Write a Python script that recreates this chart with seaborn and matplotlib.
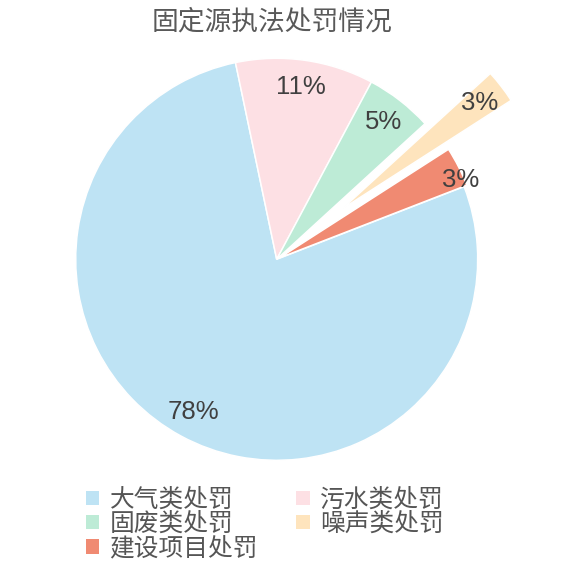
#!/usr/bin/env python3

import numpy as np
import matplotlib
matplotlib.use("Agg")
import matplotlib.pyplot as plt
from matplotlib.patches import Patch
import seaborn as sns

# data
categories = ['大气类处罚', '污水类处罚', '固废类处罚', '噪声类处罚', '建设项目处罚']
values = [776, 111, 54, 27, 32]
colors = ['#bee3f4', '#fde0e4', '#bdebd6', '#fee4bd', '#f08a72']
explode = [0, 0, 0, 0.41, 0.015]
title = '固定源执法处罚情况'

sns.set_theme(style='white')
plt.rcParams['font.family'] = ['Noto Sans CJK SC', 'DejaVu Sans']

fig = plt.figure(figsize=(5.72, 5.72), dpi=100)
ax = fig.add_axes([0, 0, 1, 1])

pal = sns.color_palette(colors)
wedges, texts, autotexts = ax.pie(
    values, colors=pal, explode=explode, startangle=21.2, counterclock=False,
    autopct='%1.0f%%', pctdistance=0.865, radius=1,
    wedgeprops=dict(edgecolor='white', linewidth=1.1),
    textprops=dict(fontsize=18.5, color='#404040', family='Liberation Sans'),
)

# red label sits near the rim, a bit below the middle of its wedge
w = wedges[4]
ang = np.deg2rad((w.theta1 + w.theta2) / 2 - 3.8)
cx, cy = w.center
autotexts[4].set_position((cx + 0.98 * np.cos(ang), cy + 0.98 * np.sin(ang)))

# same pixel scale on both axes: 201 px per unit, center at (276.7, 259.3)
s = 201.0
ax.set_xlim(-276.7 / s, (572 - 276.7) / s)
ax.set_ylim(-(572 - 259.3) / s, 259.3 / s)
ax.set_aspect('equal')
ax.axis('off')

fig.text(0.4755, 1 - 22.5 / 572, title, ha='center', va='center',
         fontsize=19.3, color='#595959')

# legend, row by row
order = [0, 2, 4, 1, 3]
handles = [Patch(facecolor=colors[i], edgecolor='none') for i in order]
labels = [categories[i] for i in order]
fig.legend(handles, labels, ncol=2, loc='center', bbox_to_anchor=(0.463, 1 - 524 / 572),
           frameon=False, fontsize=17.8, labelcolor='#555555',
           handlelength=0.55, handleheight=0.5, handletextpad=0.42,
           columnspacing=1.55, labelspacing=-0.07, borderpad=0)

fig.savefig('out.png', dpi=100)
